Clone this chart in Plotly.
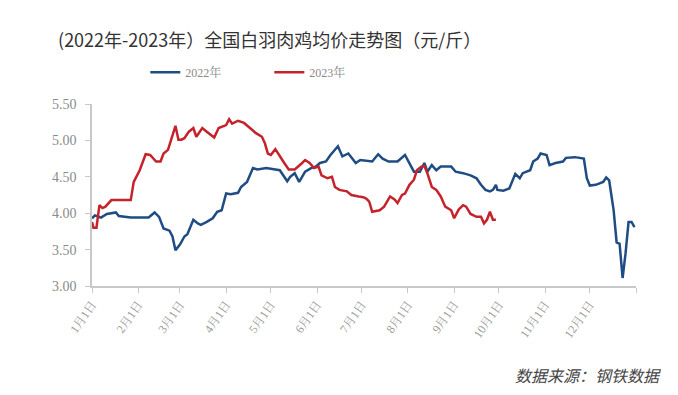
import plotly.graph_objects as go

# 2022 series (date MM-DD, price 元/斤)
dates_2022 = ["01-01","01-03","01-07","01-11","01-17","01-19","01-27","02-08","02-12","02-15",
              "02-18","02-22","02-24","02-26","03-01","03-04","03-06","03-10","03-13","03-15",
              "03-19","03-23","03-26","03-29","04-01","04-04","04-09","04-11","04-15","04-19",
              "04-22","04-28","05-04","05-07","05-12","05-14","05-17","05-20","05-24","05-28",
              "05-31","06-03","06-07","06-10","06-15","06-18","06-22","06-27","06-30","07-05",
              "07-08","07-12","07-15","07-19","07-25","07-30","08-02","08-05","08-09","08-12",
              "08-14","08-17","08-20","08-23","08-30","09-02","09-07","09-12","09-16","09-19",
              "09-22","09-25","09-27","09-29","09-30","10-04","10-08","10-12","10-15","10-17",
              "10-22","10-24","10-27","10-29","11-02","11-04","11-08","11-13","11-15","11-21",
              "11-27","11-29","12-01","12-05","12-10","12-12","12-14","12-17","12-19","12-21",
              "12-23","12-25","12-27","12-29","12-31"]
values_2022 = [3.93,3.97,3.94,3.99,4.01,3.96,3.94,3.94,4.01,3.95,
               3.79,3.76,3.68,3.49,3.57,3.68,3.71,3.91,3.86,3.84,
               3.88,3.93,4.02,4.04,4.27,4.26,4.28,4.36,4.43,4.62,
               4.60,4.62,4.60,4.59,4.44,4.50,4.55,4.43,4.57,4.62,
               4.64,4.69,4.71,4.80,4.92,4.78,4.82,4.69,4.73,4.72,
               4.71,4.81,4.75,4.71,4.71,4.80,4.69,4.57,4.57,4.69,
               4.57,4.66,4.59,4.64,4.64,4.57,4.55,4.52,4.48,4.39,
               4.32,4.30,4.32,4.39,4.32,4.31,4.34,4.54,4.48,4.55,
               4.59,4.71,4.75,4.82,4.80,4.66,4.69,4.71,4.76,4.77,
               4.75,4.48,4.38,4.39,4.43,4.49,4.45,4.04,3.60,3.58,
               3.11,3.45,3.88,3.88,3.81]

# 2023 series
dates_2023 = ["01-01","01-02","01-04","01-06","01-08","01-10","01-14","01-27","01-29","02-02",
              "02-06","02-09","02-13","02-16","02-18","02-21","02-26","02-28","03-02","03-04",
              "03-07","03-10","03-12","03-16","03-19","03-24","03-27","04-01","04-03","04-05",
              "04-09","04-13","04-17","04-21","04-25","04-27","04-29","05-01","05-04","05-07",
              "05-10","05-13","05-17","05-22","05-24","05-27","05-30","06-02","06-04","06-08",
              "06-11","06-13","06-16","06-21","06-24","06-29","07-02","07-04","07-06","07-08",
              "07-13","07-16","07-20","07-23","07-25","07-28","07-30","08-02","08-05","08-07",
              "08-10","08-12","08-14","08-17","08-20","08-23","08-26","08-30","09-01","09-04",
              "09-07","09-09","09-12","09-16","09-19","09-21","09-23","09-25","09-27","09-29"]
values_2023 = [3.88,3.80,3.80,4.11,4.07,4.09,4.18,4.18,4.43,4.59,
               4.81,4.80,4.71,4.71,4.82,4.87,5.20,5.01,5.01,5.03,
               5.12,5.17,5.05,5.17,5.12,5.04,5.17,5.21,5.29,5.23,
               5.27,5.24,5.17,5.10,5.05,4.96,4.82,4.80,4.88,4.78,
               4.69,4.60,4.60,4.69,4.73,4.69,4.62,4.64,4.52,4.48,
               4.50,4.36,4.32,4.30,4.25,4.23,4.22,4.20,4.16,4.02,
               4.04,4.09,4.23,4.19,4.14,4.25,4.27,4.39,4.46,4.59,
               4.64,4.65,4.55,4.36,4.32,4.23,4.09,4.04,3.93,4.05,
               4.11,4.09,3.99,3.95,3.95,3.86,3.91,4.02,3.91,3.91]

month_ticks = ["01-01","02-01","03-01","04-01","05-01","06-01","07-01","08-01",
               "09-01","10-01","11-01","12-01"]
month_labels = ["1月1日","2月1日","3月1日","4月1日","5月1日","6月1日","7月1日","8月1日",
                "9月1日","10月1日","11月1日","12月1日"]
y_ticks = [3.0, 3.5, 4.0, 4.5, 5.0, 5.5]

def on_axis(md):
    # both years are drawn on one common Jan–Dec axis
    return "2022-" + md

fig = go.Figure()
fig.add_trace(go.Scatter(x=[on_axis(d) for d in dates_2022], y=values_2022, mode="lines",
                         name="2022年", line=dict(color="#1f4c82", width=2.5)))
fig.add_trace(go.Scatter(x=[on_axis(d) for d in dates_2023], y=values_2023, mode="lines",
                         name="2023年", line=dict(color="#c4232b", width=2.5)))

serif = "Liberation Serif, Times New Roman, Noto Serif CJK SC, Noto Sans CJK SC, serif"

fig.update_layout(
    width=678, height=395,
    margin=dict(l=84, r=50, t=96, b=117, autoexpand=False),
    paper_bgcolor="white", plot_bgcolor="white",
    title=dict(text="(2022年-2023年）全国白羽肉鸡均价走势图（元/斤）",
               x=0.386, xanchor="center", y=0.918, yanchor="middle",
               font=dict(family="Noto Sans CJK SC, sans-serif", size=18, color="#333333")),
    legend=dict(orientation="h", x=0.098, xanchor="left", y=1.175, yanchor="middle",
                font=dict(family=serif, size=12, color="#8a8a8a"),
                itemwidth=30, entrywidth=79, entrywidthmode="pixels",
                tracegroupgap=0, bgcolor="rgba(0,0,0,0)"),
    showlegend=True,
)

fig.update_xaxes(
    type="date",
    range=["2022-01-01", "2023-01-01"],
    tickvals=[on_axis(d) for d in month_ticks] + ["2023-01-01"],
    ticktext=month_labels + [""],
    tickangle=-55,
    ticks="outside", ticklen=5, tickcolor="#c8c8c8",
    showline=True, linecolor="#c8c8c8", linewidth=1.5,
    showgrid=False, zeroline=False,
    tickfont=dict(family=serif, size=12, color="#9a9a9a"),
)
fig.update_yaxes(
    range=[3.0, 5.5],
    tickvals=y_ticks,
    ticktext=[f"{v:.2f}" for v in y_ticks],
    ticks="outside", ticklen=5, tickcolor="#c8c8c8",
    ticklabelstandoff=6,
    showline=True, linecolor="#c8c8c8", linewidth=1.5,
    showgrid=False, zeroline=False,
    tickfont=dict(family=serif, size=14, color="#8a8a8a"),
)

fig.add_annotation(
    text="数据来源：钢铁数据", xref="paper", yref="paper",
    x=1.0495, xanchor="right", y=-0.489, yanchor="middle", showarrow=False,
    font=dict(family="Noto Sans CJK SC, sans-serif", size=16, color="#444444", style="italic"),
)

fig.write_html("out.html")
